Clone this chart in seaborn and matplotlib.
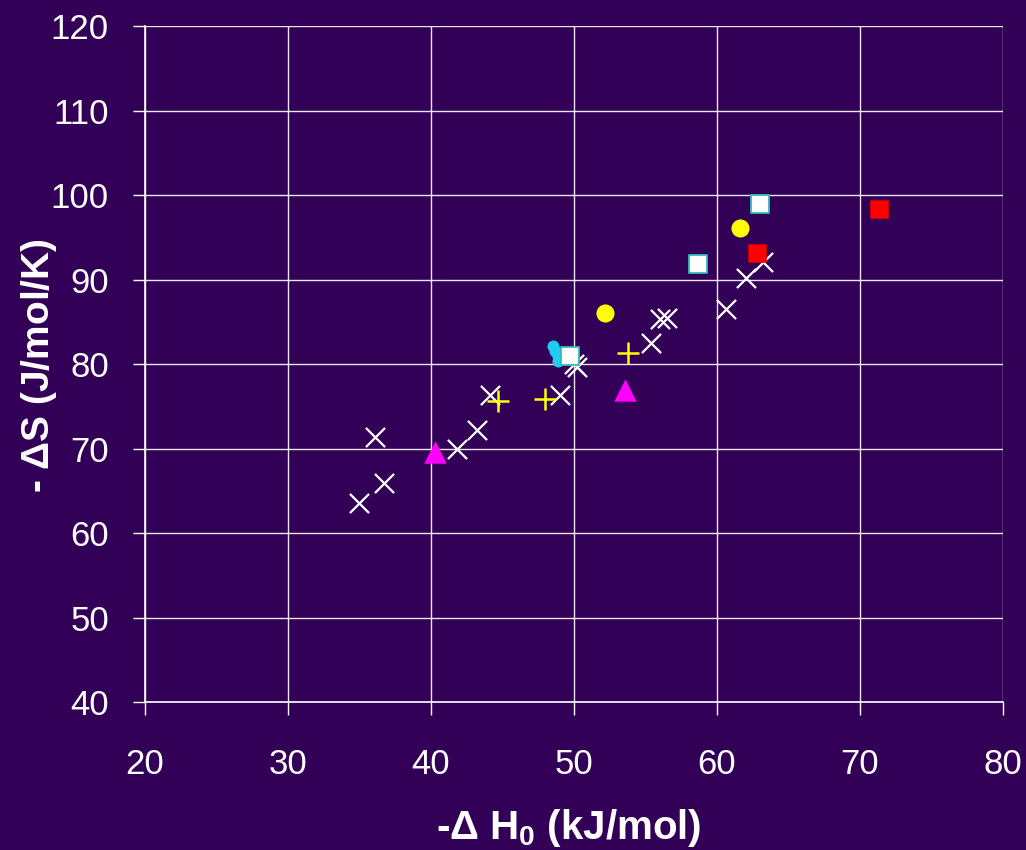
import matplotlib
matplotlib.use("Agg")
import matplotlib.pyplot as plt
import seaborn as sns
import numpy as np

# Series: -dH0 (kJ/mol) and -dS (J/mol/K)
cross_x = [35.0, 36.1, 36.7, 41.8, 43.2, 44.1, 49.0, 50.2, 50.0, 55.4, 56.0, 56.5, 60.6, 62.0, 63.2]
cross_y = [63.6, 71.4, 65.9, 70.0, 72.2, 76.3, 76.3, 79.6, 80.0, 82.5, 85.3, 85.4, 86.5, 90.2, 92.1]

plus_x = [44.7, 48.0, 53.8]
plus_y = [75.6, 75.9, 81.3]

tri_x = [40.3, 53.6]
tri_y = [69.6, 76.9]

circ_x = [52.2, 61.6]
circ_y = [86.0, 96.1]

red_x = [62.8, 71.3]
red_y = [93.1, 98.3]

open_x = [49.7, 58.7, 63.0]
open_y = [80.9, 91.8, 98.9]

dot_x = [48.5, 48.7, 48.9, 48.9]
dot_y = [82.1, 81.5, 80.9, 80.3]

x_ticks = [20, 30, 40, 50, 60, 70, 80]
y_ticks = [40, 50, 60, 70, 80, 90, 100, 110, 120]

BG = "#330058"

sns.set_theme(style="white")
plt.rcParams["font.family"] = ["Liberation Sans", "DejaVu Sans"]
plt.rcParams["mathtext.fontset"] = "custom"
plt.rcParams["mathtext.rm"] = "Liberation Sans:bold"
plt.rcParams["mathtext.it"] = "Liberation Sans:bold"
plt.rcParams["mathtext.bf"] = "Liberation Sans:bold"

fig = plt.figure(figsize=(10.26, 8.5), dpi=100, facecolor=BG)
ax = fig.add_axes([0.1413, 0.1741, 0.8363, 0.7953])
ax.set_facecolor(BG)

sns.scatterplot(x=cross_x, y=cross_y, marker="x", s=190, color="white",
                linewidth=1.6, ax=ax, zorder=3)
sns.scatterplot(x=plus_x, y=plus_y, marker="+", s=230, color="#ffff00",
                linewidth=1.8, ax=ax, zorder=3)
sns.scatterplot(x=tri_x, y=tri_y, marker="^", s=260, color="#ff00ff",
                edgecolor="#ff00ff", linewidth=0, ax=ax, zorder=3)
sns.scatterplot(x=circ_x, y=circ_y, marker="o", s=170, color="#ffff00",
                edgecolor="#ffff00", linewidth=0, ax=ax, zorder=3)
sns.scatterplot(x=red_x, y=red_y, marker="s", s=170, color="#ff0000",
                edgecolor="#cc0000", linewidth=0.5, ax=ax, zorder=3)
sns.scatterplot(x=dot_x, y=dot_y, marker="o", s=75, color="#22ccee",
                edgecolor="#22ccee", linewidth=0, ax=ax, zorder=3)
sns.scatterplot(x=open_x, y=open_y, marker="s", s=150, color="white",
                edgecolor="#33bbbb", linewidth=1.3, ax=ax, zorder=4)

ax.set_xlim(20, 80)
ax.set_ylim(40, 120)
ax.set_xticks(x_ticks)
ax.set_yticks(y_ticks)
ax.grid(True, color="white", linewidth=1.0, alpha=0.9)
ax.set_axisbelow(True)

for side in ["top", "right"]:
    ax.spines[side].set_visible(False)
for side in ["left", "bottom"]:
    ax.spines[side].set_color("white")
    ax.spines[side].set_linewidth(1.2)

ax.tick_params(axis="x", colors="white", labelsize=25, direction="out",
               length=9, width=1, pad=24, bottom=True)
ax.tick_params(axis="y", colors="white", labelsize=25, direction="out",
               length=9, width=1, pad=17, left=True)

ax.set_xlabel(r"-$\Delta$ H$_0$ (kJ/mol)", color="white", fontsize=29,
              fontweight="bold")
ax.xaxis.set_label_coords(0.494, -0.187)
ax.xaxis.label.set_va("center")
ax.set_ylabel(r"- $\Delta$S (J/mol/K)", color="white", fontsize=28,
              fontweight="bold")
ax.yaxis.set_label_coords(-0.124, 0.497)
ax.yaxis.label.set_va("center")

fig.savefig("out.png", dpi=100, facecolor=BG)
